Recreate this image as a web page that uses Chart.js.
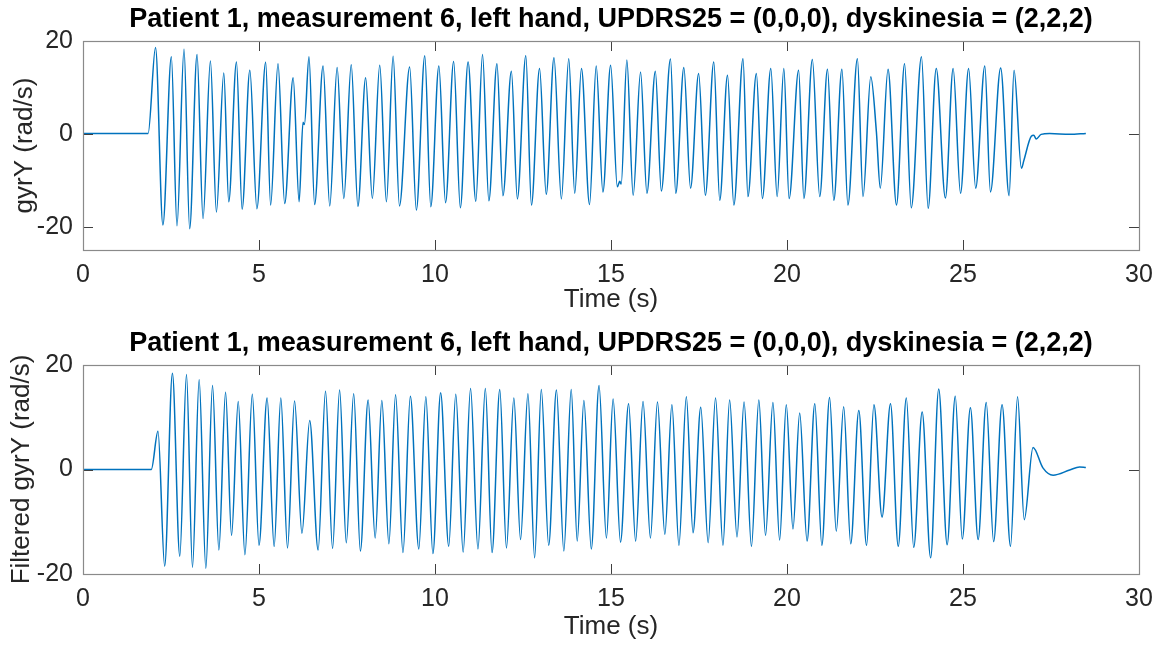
<!DOCTYPE html>
<html><head><meta charset="utf-8">
<script src="https://cdn.jsdelivr.net/npm/chart.js@4/dist/chart.umd.min.js"></script>
<style>
html,body{margin:0;padding:0;background:#fff;}
#wrap{position:relative;width:1163px;height:651px;background:#fff;}
.c{position:absolute;left:0;}
</style></head><body>
<div id="wrap">
<div class="c" style="top:0;"><canvas id="c1" width="1163" height="326"></canvas></div>
<div class="c" style="top:326px;"><canvas id="c2" width="1163" height="325"></canvas></div>
</div>
<script>
const titleText = 'Patient 1, measurement 6, left hand, UPDRS25 = (0,0,0), dyskinesia = (2,2,2)';
const xTitle = 'Time (s)';
const yTitleTop = 'gyrY (rad/s)';
const yTitleBottom = 'Filtered gyrY (rad/s)';
const xTickStep = 5;
const yTicksTop = [-20, 0, 20];
const yTicksBottom = [-20, 0, 20];

// Raw signal: times (s) of readable turning points and features
const rawTime = [0, 1.85, 2.06, 2.27, 2.51, 2.67, 2.87, 3.03, 3.24, 3.41, 3.62, 3.79, 4.00, 4.14, 4.36, 4.52, 4.74, 4.94, 5.19, 5.33, 5.54, 5.73, 5.97, 6.14, 6.25, 6.29, 6.42, 6.58, 6.82, 7.01, 7.22, 7.41, 7.62, 7.81, 8.03, 8.22, 8.43, 8.62, 8.81, 8.99, 9.28, 9.47, 9.71, 9.88, 10.11, 10.30, 10.53, 10.72, 10.94, 11.16, 11.35, 11.53, 11.76, 11.93, 12.17, 12.34, 12.58, 12.74, 12.97, 13.16, 13.38, 13.59, 13.80, 13.97, 14.16, 14.39, 14.58, 14.77, 14.99, 15.18, 15.25, 15.29, 15.45, 15.63, 15.84, 16.02, 16.26, 16.43, 16.69, 16.84, 17.07, 17.26, 17.49, 17.68, 17.92, 18.09, 18.31, 18.49, 18.75, 18.89, 19.13, 19.30, 19.54, 19.72, 19.91, 20.06, 20.33, 20.48, 20.72, 20.93, 21.15, 21.33, 21.56, 21.73, 22.00, 22.16, 22.38, 22.54, 22.65, 22.87, 23.11, 23.34, 23.53, 23.82, 24.01, 24.24, 24.50, 24.72, 24.93, 25.16, 25.36, 25.62, 25.78, 26.07, 26.31, 26.45, 26.66, 26.73, 26.94, 27.01, 27.08, 27.22, 27.46, 28.03, 28.49];
const rawGyrY = [0.1, 0.1, 18.6, -19.6, 16.6, -19.8, 18.2, -20.4, 17.1, -18.2, 15.7, -16.8, 13.1, -14.6, 15.5, -16.2, 13.7, -16.1, 15.4, -15.3, 15.1, -15.0, 12.1, -14.6, 2.5, 2.0, 16.6, -15.2, 14.6, -15.5, 14.3, -13.9, 14.9, -15.6, 12.1, -13.9, 14.8, -14.6, 16.7, -15.5, 14.4, -16.4, 16.8, -15.7, 14.6, -14.8, 15.6, -15.9, 15.5, -14.5, 17.1, -14.4, 15.1, -13.3, 13.5, -14.0, 16.8, -15.3, 14.1, -13.0, 16.4, -14.0, 16.2, -12.8, 14.1, -15.2, 14.6, -12.5, 14.8, -11.4, -10.2, -10.8, 15.9, -13.2, 13.3, -12.8, 13.5, -12.3, 16.1, -12.8, 14.3, -11.7, 13.0, -13.2, 15.5, -14.3, 12.6, -15.3, 16.2, -13.5, 13.0, -13.9, 14.1, -13.5, 14.1, -13.9, 13.7, -13.9, 16.0, -13.5, 13.9, -14.3, 13.9, -15.3, 16.2, -13.5, 12.3, 0.4, -11.7, 13.9, -15.3, 15.1, -15.9, 16.6, -16.0, 14.1, -13.8, 14.1, -12.8, 14.1, -11.7, 14.6, -12.5, 14.2, -13.3, 13.7, -7.4, -5.7, -0.5, -0.3, -1.1, -0.1, 0.1, -0.1, 0.1];

// Filtered signal
const filtTime = [0, 1.94, 2.13, 2.32, 2.54, 2.75, 2.94, 3.11, 3.30, 3.49, 3.68, 3.86, 4.05, 4.22, 4.41, 4.60, 4.81, 5.00, 5.23, 5.43, 5.62, 5.81, 6.01, 6.22, 6.44, 6.68, 6.89, 7.09, 7.29, 7.48, 7.69, 7.88, 8.10, 8.30, 8.49, 8.69, 8.88, 9.09, 9.30, 9.54, 9.74, 9.94, 10.16, 10.39, 10.59, 10.80, 11.01, 11.22, 11.43, 11.62, 11.84, 12.03, 12.24, 12.43, 12.64, 12.83, 13.02, 13.23, 13.45, 13.66, 13.87, 14.04, 14.23, 14.44, 14.66, 14.87, 15.06, 15.27, 15.50, 15.70, 15.91, 16.12, 16.32, 16.53, 16.73, 16.93, 17.14, 17.33, 17.55, 17.76, 17.97, 18.18, 18.37, 18.58, 18.78, 18.99, 19.20, 19.39, 19.60, 19.79, 19.98, 20.17, 20.36, 20.57, 20.79, 20.99, 21.21, 21.40, 21.61, 21.81, 22.04, 22.26, 22.47, 22.70, 22.94, 23.16, 23.39, 23.60, 23.84, 24.08, 24.31, 24.55, 24.78, 24.98, 25.21, 25.43, 25.66, 25.87, 26.11, 26.35, 26.55, 26.74, 26.99, 27.27, 27.56, 28.03, 28.31, 28.49];
const filtGyrY = [0, 0, 7.3, -18.5, 18.4, -16.6, 18.2, -18.7, 17.2, -18.9, 16.1, -15.4, 14.8, -12.6, 13.0, -16.3, 14.4, -14.5, 13.7, -14.7, 13.7, -15.0, 13.1, -12.2, 9.4, -15.4, 15.0, -15.1, 15.2, -14.0, 14.5, -15.6, 13.3, -13.1, 13.2, -14.2, 14.3, -15.9, 14.0, -15.2, 13.9, -16.1, 14.7, -14.7, 14.4, -15.8, 15.5, -15.2, 15.5, -15.9, 15.3, -15.0, 13.7, -13.4, 14.5, -16.9, 15.3, -14.5, 15.2, -15.6, 15.3, -13.7, 13.2, -15.2, 16.1, -13.1, 13.5, -13.9, 12.6, -13.7, 13.0, -13.1, 12.9, -12.4, 12.4, -14.5, 13.9, -12.1, 11.9, -14.0, 13.7, -14.5, 13.3, -12.9, 12.9, -14.7, 13.3, -12.6, 12.8, -13.5, 12.4, -11.4, 10.8, -13.7, 12.6, -14.5, 13.8, -11.8, 12.0, -14.2, 11.3, -14.5, 12.4, -9.1, 12.6, -14.7, 13.7, -14.9, 11.0, -16.9, 15.4, -14.4, 14.0, -13.3, 11.8, -13.4, 12.8, -13.8, 12.4, -14.7, 13.9, -9.6, 4.2, 0.3, -1.1, -0.1, 0.5, 0.4];

const FONT = '"Liberation Sans", Arial, Helvetica, sans-serif';
const TEXT = '#262626';

const framePlugin = {
  id: 'matlabFrame',
  afterDraw(chart) {
    const {ctx, chartArea: a, scales} = chart;
    const x = scales.x, y = scales.y;
    const L = 10;
    ctx.save();
    ctx.strokeStyle = '#404040';
    ctx.lineWidth = 1;
    ctx.beginPath();
    x.ticks.forEach(t => {
      const px = Math.round(x.getPixelForValue(t.value)) + 0.5;
      if (px <= a.left + 1 || px >= a.right - 1) return;
      ctx.moveTo(px, a.bottom); ctx.lineTo(px, a.bottom - L);
      ctx.moveTo(px, a.top); ctx.lineTo(px, a.top + L);
    });
    y.ticks.forEach(t => {
      const py = Math.round(y.getPixelForValue(t.value)) + 0.5;
      if (py <= a.top + 1 || py >= a.bottom - 1) return;
      ctx.moveTo(a.left, py); ctx.lineTo(a.left + L, py);
      ctx.moveTo(a.right, py); ctx.lineTo(a.right - L, py);
    });
    ctx.stroke();
    ctx.strokeStyle = '#8a8a8a';
    ctx.lineWidth = 1.2;
    ctx.strokeRect(Math.round(a.left) + 0.5, Math.round(a.top) + 0.5, Math.round(a.right - a.left), Math.round(a.bottom - a.top));
    ctx.restore();
  }
};

function makeChart(id, times, values, yTitle, yMin, yMax, yTicks, o) {
  const pts = times.map((t, i) => ({x: t, y: values[i]}));
  return new Chart(document.getElementById(id), {
    type: 'line',
    data: {datasets: [{data: pts, borderColor: '#0072BD', borderWidth: 1.5, pointRadius: 0, cubicInterpolationMode: 'monotone', fill: false}]},
    options: {
      responsive: false, animation: false, events: [],
      layout: {padding: {left: 0, right: 24, top: 0, bottom: 0}},
      plugins: {
        legend: {display: false}, tooltip: {enabled: false},
        title: {display: true, text: titleText, fullSize: false, color: '#000', font: {family: FONT, size: 27, weight: 'bold', lineHeight: 1.2}, padding: {top: o.tpt, bottom: o.tpb}}
      },
      scales: {
        x: {
          type: 'linear', min: 0, max: 30,
          grid: {display: false, drawTicks: false}, border: {display: false},
          ticks: {stepSize: xTickStep, color: TEXT, font: {family: FONT, size: 25}, padding: 10, maxRotation: 0, autoSkip: false},
          title: {display: true, text: xTitle, color: TEXT, font: {family: FONT, size: 26, lineHeight: 1.2}, padding: {top: 0, bottom: o.xpb}},
          afterFit(s) { s.height = o.xh; }
        },
        y: {
          min: yMin, max: yMax,
          afterBuildTicks(s) { s.ticks = yTicks.map(v => ({value: v})); },
          grid: {display: false, drawTicks: false}, border: {display: false},
          ticks: {color: TEXT, font: {family: FONT, size: 25}, padding: 10},
          title: {display: true, text: yTitle, color: TEXT, font: {family: FONT, size: 26, lineHeight: 1.2}, padding: {top: o.ypt, bottom: 0}},
          afterFit(s) { s.width = 83; }
        }
      }
    },
    plugins: [framePlugin]
  });
}

makeChart('c1', rawTime, rawGyrY, yTitleTop, -25, 20, yTicksTop, {tpt: 3, tpb: 5.6, xh: 76, xpb: 11, ypt: 9.5});
makeChart('c2', filtTime, filtGyrY, yTitleBottom, -20, 20, yTicksBottom, {tpt: 1, tpb: 5.6, xh: 77, xpb: 9, ypt: 6.5});
</script>
</body></html>
